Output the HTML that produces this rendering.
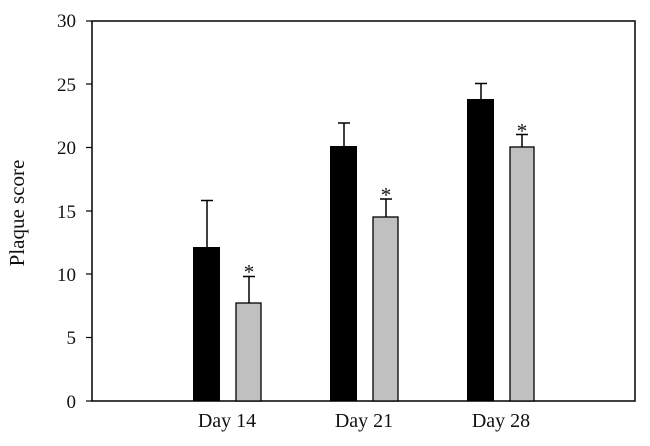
<!DOCTYPE html>
<html><head><style>body{margin:0;background:#fff}svg{display:block}text{font-family:"Liberation Serif",serif;fill:#111}</style></head><body>
<svg width="650" height="446" viewBox="0 0 650 446">
<rect x="92" y="21" width="543" height="380" fill="none" stroke="#000" stroke-width="1.5"/>
<g stroke="#000" stroke-width="1.2">
<line x1="86" y1="21" x2="92" y2="21"/><line x1="86" y1="84" x2="92" y2="84"/><line x1="86" y1="147.5" x2="92" y2="147.5"/><line x1="86" y1="211" x2="92" y2="211"/><line x1="86" y1="274" x2="92" y2="274"/><line x1="86" y1="337.5" x2="92" y2="337.5"/><line x1="86" y1="401" x2="92" y2="401"/>
</g>
<g font-size="19" text-anchor="end">
<text x="76" y="27">30</text><text x="76" y="91">25</text><text x="76" y="154">20</text><text x="76" y="218">15</text><text x="76" y="281">10</text><text x="76" y="344">5</text><text x="76" y="408">0</text>
</g>
<text transform="translate(24,213) rotate(-90)" font-size="21" text-anchor="middle">Plaque score</text>
<g stroke="#000" stroke-width="1.5">
<line x1="207" y1="247" x2="207" y2="200.5"/><line x1="201" y1="200.5" x2="213" y2="200.5"/>
<line x1="249" y1="303" x2="249" y2="276.5"/><line x1="243" y1="276.5" x2="255" y2="276.5"/>
<line x1="344" y1="146" x2="344" y2="123"/><line x1="338" y1="123" x2="350" y2="123"/>
<line x1="386" y1="217" x2="386" y2="199"/><line x1="380" y1="199" x2="392" y2="199"/>
<line x1="481" y1="99" x2="481" y2="83.5"/><line x1="475" y1="83.5" x2="487" y2="83.5"/>
<line x1="522" y1="147" x2="522" y2="134.5"/><line x1="516" y1="134.5" x2="528" y2="134.5"/>
</g>
<rect x="193" y="247" width="27" height="154" fill="#000"/>
<rect x="236" y="303" width="25" height="98" fill="#c0c0c0" stroke="#000" stroke-width="1.3"/>
<rect x="330" y="146" width="27" height="255" fill="#000"/>
<rect x="373" y="217" width="25" height="184" fill="#c0c0c0" stroke="#000" stroke-width="1.3"/>
<rect x="467" y="99" width="27" height="302" fill="#000"/>
<rect x="510" y="147" width="24" height="254" fill="#c0c0c0" stroke="#000" stroke-width="1.3"/>
<g font-size="21" text-anchor="middle">
<text x="249" y="279">*</text><text x="386" y="202">*</text><text x="522" y="138">*</text>
</g>
<g font-size="20" text-anchor="middle">
<text x="227" y="427">Day 14</text><text x="364" y="427">Day 21</text><text x="501" y="427">Day 28</text>
</g>
</svg>
</body></html>
